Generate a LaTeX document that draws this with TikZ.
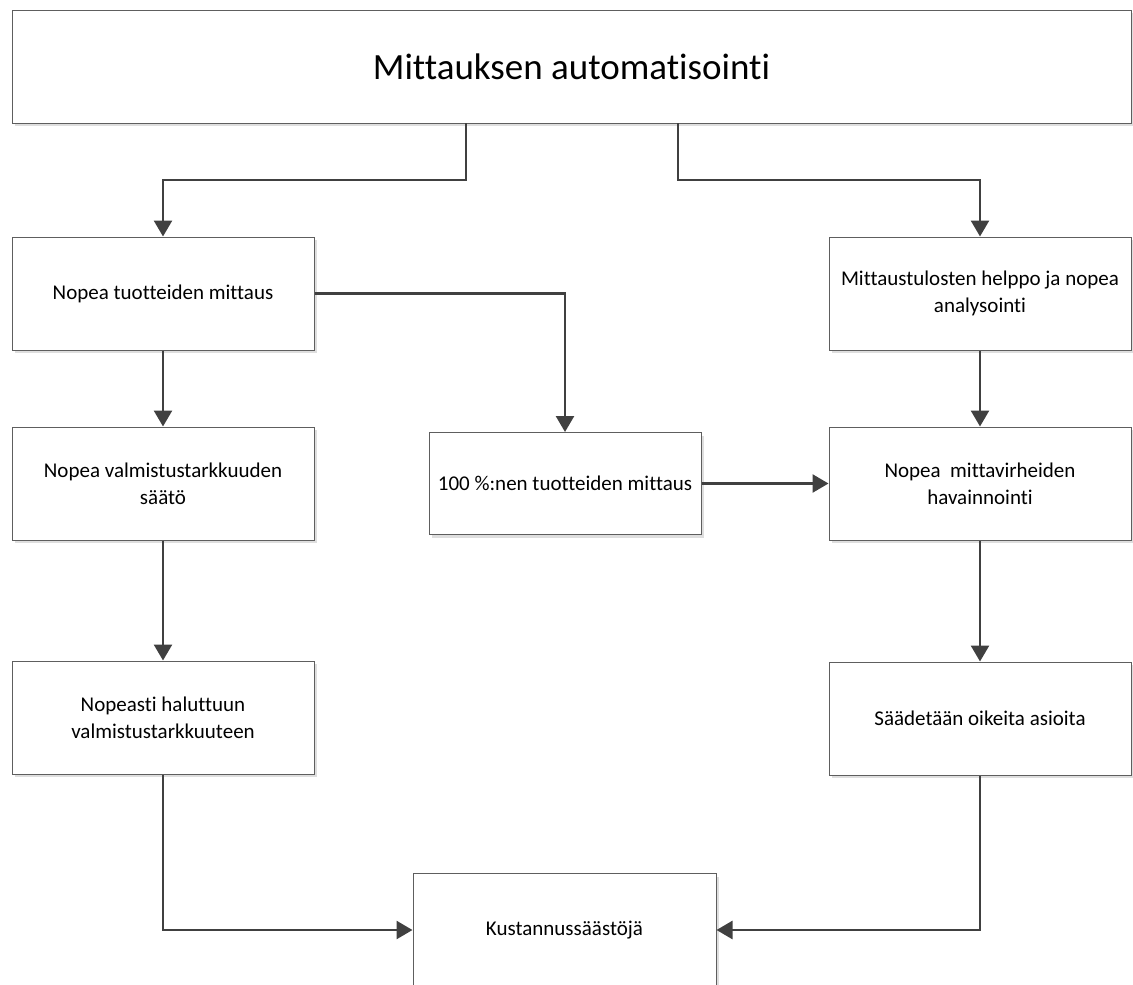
\documentclass[tikz,border=0pt]{standalone}
\usepackage{fontspec}
\setmainfont{Carlito}[Ligatures=NoCommon]
\usepackage{tikz}
\usetikzlibrary{arrows.meta, shadows}
\definecolor{boxline}{HTML}{5E5E5E}
\definecolor{arrowline}{HTML}{404040}

\begin{document}
\begin{tikzpicture}[x=1pt, y=-1pt,
    every node/.style={rectangle, draw=boxline, line width=1pt, fill=white, align=center,
        font=\fontsize{21}{27}\selectfont,
        drop shadow={shadow xshift=3pt, shadow yshift=-3pt, fill=black!13, opacity=1}},
    box/.style={minimum width=302pt, minimum height=113pt, inner sep=0pt},
    link/.style={draw=arrowline, line width=2.6pt, -{Triangle[length=16pt, width=18pt]}}]
    \useasboundingbox (0,0) rectangle (1133,985);
    \node[minimum width=1119pt, minimum height=113pt, font=\fontsize{37}{44}\selectfont] (T) at (571.5,66.5) {Mittauksen automatisointi};
    \node[box] (L1) at (163,293.5) {Nopea tuotteiden mittaus};
    \node[box] (L2) at (163,483.5) {Nopea valmistustarkkuuden\\ säätö};
    \node[box] (L3) at (163,717.5) {Nopeasti haluttuun\\ valmistustarkkuuteen};
    \node[box, minimum width=272pt, minimum height=102pt] (M) at (565,483.5) {100 \%:nen tuotteiden mittaus};
    \node[box] (R1) at (980,293.5) {Mittaustulosten helppo ja nopea\\ analysointi};
    \node[box] (R2) at (980,483.5) {Nopea\ \ mittavirheiden\\ havainnointi};
    \node[box] (R3) at (980,718.5) {Säädetään oikeita asioita};
    \node[box, minimum width=303pt] (B) at (564.5,930) {Kustannussäästöjä};
    \coordinate (tl) at (466,123);
    \coordinate (tr) at (678,123);
    % arrows between the boxes
    \draw[link] (tl) -- (466,180) -| (L1);
    \draw[link] (tr) -- (678,180) -| (R1);
    \draw[link] (L1) -- (L2);
    \draw[link] (L2) -- (L3);
    \draw[link] (R1) -- (R2);
    \draw[link] (R2) -- (R3);
    \draw[link] (L1.east) -| (M);
    \draw[link] (M) -- (R2);
    \draw[link] (L3) |- (B);
    \draw[link] (R3) |- (B);
\end{tikzpicture}
\end{document}
